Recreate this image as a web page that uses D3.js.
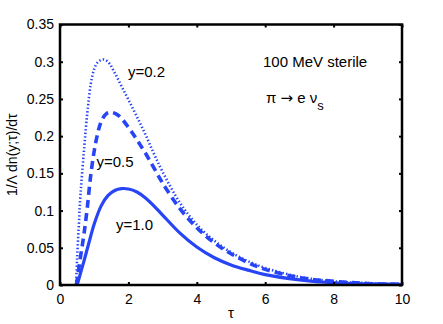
<!DOCTYPE html>
<html><head><meta charset="utf-8">
<script src="https://cdn.jsdelivr.net/npm/d3@7"></script>
<style>html,body{margin:0;padding:0;background:#fff}svg{display:block;font-family:"Liberation Sans",Arial,Helvetica,sans-serif}</style>
</head><body><svg id="c" width="443" height="324"></svg>
<script>
const xTicks = [0, 2, 4, 6, 8, 10];
const yTicks = [0, 0.05, 0.1, 0.15, 0.2, 0.25, 0.3, 0.35];
const yTickLabels = ["0", "0.05", "0.1", "0.15", "0.2", "0.25", "0.3", "0.35"];

const tauDotted = [0.47, 0.5, 0.55, 0.6, 0.7, 0.8, 0.9, 1.0, 1.1, 1.25, 1.4, 1.6, 1.8, 2.0, 2.25, 2.5, 2.75, 3.0, 3.5, 4.0, 4.5, 5.0, 5.5, 6.0, 7.0, 8.0, 9.0, 10.0];
const valDotted = [0, 0.035, 0.080, 0.122, 0.180, 0.232, 0.270, 0.290, 0.299, 0.303, 0.300, 0.285, 0.267, 0.249, 0.226, 0.202, 0.176, 0.152, 0.111, 0.081, 0.060, 0.044, 0.032, 0.023, 0.011, 0.005, 0.0025, 0.001];

const tauDashed = [0.48, 0.6, 0.7, 0.8, 0.9, 1.0, 1.1, 1.2, 1.35, 1.5, 1.7, 2.0, 2.25, 2.5, 2.75, 3.0, 3.5, 4.0, 4.5, 5.0, 5.5, 6.0, 7.0, 8.0, 9.0, 10.0];
const valDashed = [0, 0.038, 0.068, 0.105, 0.148, 0.180, 0.203, 0.219, 0.230, 0.232, 0.228, 0.212, 0.195, 0.177, 0.157, 0.137, 0.103, 0.077, 0.057, 0.042, 0.030, 0.021, 0.010, 0.005, 0.002, 0.001];

const tauSolid = [0.5, 0.6, 0.7, 0.8, 0.9, 1.0, 1.2, 1.4, 1.6, 1.8, 2.0, 2.25, 2.5, 2.75, 3.0, 3.5, 4.0, 4.5, 5.0, 5.5, 6.0, 7.0, 8.0, 9.0, 10.0];
const valSolid = [0, 0.016, 0.032, 0.049, 0.066, 0.082, 0.106, 0.120, 0.127, 0.1295, 0.129, 0.125, 0.117, 0.106, 0.094, 0.070, 0.051, 0.037, 0.027, 0.020, 0.014, 0.007, 0.003, 0.0015, 0.001];

const seriesLabels = ["y=0.2", "y=0.5", "y=1.0"];

const svg = d3.select("#c");
const L = 60, R = 402, T = 24.5, B = 285;
const x = d3.scaleLinear().domain([0, 10]).range([L, R]);
const y = d3.scaleLinear().domain([0, 0.35]).range([B, T]);
const blue = "#2744f6";

const line = d3.line().x(d => x(d[0])).y(d => y(d[1])).curve(d3.curveCatmullRom.alpha(0.5));
const zip = (a, b) => a.map((t, i) => [t, b[i]]);

svg.append("path").datum(zip(tauSolid, valSolid)).attr("d", line)
  .attr("fill", "none").attr("stroke", blue).attr("stroke-width", 3.2);
svg.append("path").datum(zip(tauDashed, valDashed)).attr("d", line)
  .attr("fill", "none").attr("stroke", blue).attr("stroke-width", 3.6).attr("stroke-dasharray", "8,5");
svg.append("path").datum(zip(tauDotted, valDotted)).attr("d", line)
  .attr("fill", "none").attr("stroke", blue).attr("stroke-width", 2.6).attr("stroke-dasharray", "1.4,2.2");

// axes
const axB = svg.append("g").attr("transform", `translate(0,${B})`)
  .call(d3.axisBottom(x).tickValues(xTicks).tickSize(-3).tickPadding(6).tickFormat(d3.format("d")));
const axT = svg.append("g").attr("transform", `translate(0,${T})`)
  .call(d3.axisTop(x).tickValues(xTicks).tickSize(-3).tickFormat(""));
const axL = svg.append("g").attr("transform", `translate(${L},0)`)
  .call(d3.axisLeft(y).tickValues(yTicks).tickSize(-3).tickPadding(6).tickFormat((d, i) => yTickLabels[i]));
const axR = svg.append("g").attr("transform", `translate(${R},0)`)
  .call(d3.axisRight(y).tickValues(yTicks).tickSize(-3).tickFormat(""));
[axB, axT, axL, axR].forEach(g => {
  g.select(".domain").remove();
  g.selectAll(".tick line").attr("stroke", "#000").attr("stroke-width", 2);
  g.selectAll(".tick text").attr("font-size", 14).attr("fill", "#000").attr("font-family", "Liberation Sans, Arial, sans-serif");
});
axB.selectAll(".tick text").attr("dy", "0.95em");
svg.append("rect").attr("x", L).attr("y", T).attr("width", R - L).attr("height", B - T)
  .attr("fill", "none").attr("stroke", "#000").attr("stroke-width", 2.5);

// labels
svg.append("text").attr("x", (L + R) / 2).attr("y", 318).attr("text-anchor", "middle")
  .attr("font-size", 15).text("τ");
svg.append("text").attr("transform", `translate(17,${(T + B) / 2}) rotate(-90)`).attr("text-anchor", "middle")
  .attr("font-size", 14).text("1/Λ dn(y;τ)/dτ");

const ann = svg.append("g").attr("font-size", 15).attr("fill", "#000");
ann.append("text").attr("x", 128).attr("y", 77).text(seriesLabels[0]);
ann.append("text").attr("x", 96.5).attr("y", 166.5).text(seriesLabels[1]);
ann.append("text").attr("x", 116).attr("y", 230).text(seriesLabels[2]);
ann.append("text").attr("x", 263).attr("y", 66.5).text("100 MeV sterile");
const t2 = ann.append("text").attr("x", 266).attr("y", 103);
t2.append("tspan").text("π ");
t2.append("tspan").attr("font-family", "DejaVu Sans").attr("font-size", 15).text("→");
t2.append("tspan").text(" e ν");
t2.append("tspan").attr("dy", 7).attr("font-size", 13).text("s");
</script></body></html>
